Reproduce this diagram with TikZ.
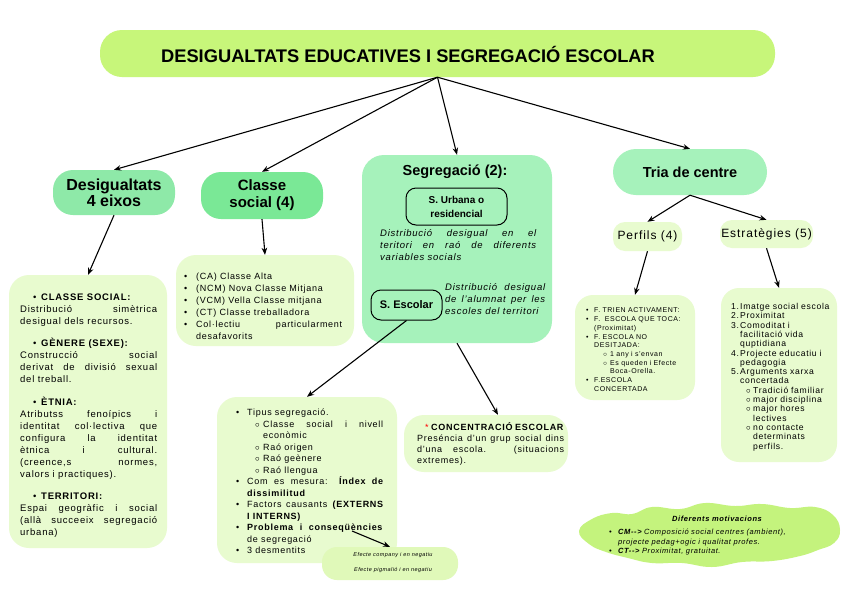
\documentclass[tikz,border=0pt]{standalone}
\usepackage{fontspec}
\setmainfont{Liberation Sans}
\newfontfamily\lsp{Liberation Sans}[LetterSpace=8]
\usetikzlibrary{arrows.meta}
\definecolor{titleg}{RGB}{199,246,122}
\definecolor{cloudg}{RGB}{196,243,125}
\definecolor{desigg}{RGB}{142,233,168}
\definecolor{classeg}{RGB}{122,232,150}
\definecolor{segg}{RGB}{166,242,187}
\definecolor{paleg}{RGB}{232,251,207}
\definecolor{efg}{RGB}{224,249,185}
\newcommand\mybul[1]{\par\noindent\hangindent=#1\hangafter=1\makebox[#1][l]{\textbullet}\ignorespaces}
\newcommand\mysub[2]{\par\noindent\hangindent=#2\hangafter=1\hspace*{#1}\makebox[\dimexpr#2-#1\relax][l]{$\circ$}\ignorespaces}
\newcommand\mynum[2]{\par\noindent\hangindent=#2\hangafter=1\makebox[#2][l]{#1}\ignorespaces}
\newcommand\myhead[1]{\par\noindent\hspace*{13pt}\makebox[8pt][l]{\textbullet}#1\par}
\pretolerance=10000 \tolerance=10000 \hbadness=10000 \hfuzz=60pt
\begin{document}
\begin{tikzpicture}[x=1pt,y=-1pt,
  rbox/.style={rectangle, rounded corners=#1, inner sep=0pt},
  arr/.style={-{Stealth[length=7pt,width=5.5pt]}, line width=1.1pt},
  tx/.style={anchor=north west, inner sep=0pt, align=justify},
]
\fill[white] (0,0) rectangle (848,600);
\useasboundingbox (0,0) rectangle (848,600);

% ---- boxes ----
\node[rbox=22pt, fill=titleg, minimum width=675pt, minimum height=47pt] (title) at (437.5,53.5) {};
\node[font=\bfseries\fontsize{18.3}{20}\selectfont] (titletxt) at (408,54) {DESIGUALTATS EDUCATIVES I SEGREGACIÓ ESCOLAR};

\node[rbox=20pt, fill=desigg, minimum width=122pt, minimum height=45pt, align=center, font=\bfseries\fontsize{16}{16}\selectfont] (desig) at (114,192.5) {Desigualtats\\4 eixos};
\node[rbox=20pt, fill=classeg, minimum width=122pt, minimum height=47pt, align=center, font=\bfseries\fontsize{15}{17}\selectfont] (classe) at (262,195.5) {Classe\\social (4)};
\node[rbox=22pt, fill=segg, minimum width=190pt, minimum height=188pt] (seg) at (457,249) {};
\node[rbox=23pt, fill=segg, minimum width=154pt, minimum height=46pt, font=\bfseries\fontsize{14.5}{16}\selectfont] (tria) at (690,172) {Tria de centre};
\node[rbox=12pt, fill=paleg, minimum width=69pt, minimum height=29pt, font=\lsp\fontsize{12}{14}\selectfont] (perf) at (647.5,236.5) {Perfils (4)};
\node[rbox=12pt, fill=paleg, minimum width=93pt, minimum height=28pt, font=\lsp\fontsize{12}{14}\selectfont] (estr) at (766.5,234) {Estratègies (5)};

\node[font=\bfseries\fontsize{14.5}{16}\selectfont] (segt) at (455,172) {Segregació (2):};
\node[rbox=10pt, draw=black, line width=1pt, minimum width=101pt, minimum height=37pt, align=center, font=\bfseries\fontsize{10}{14}\selectfont] (urb) at (456.5,206.5) {S. Urbana o\\residencial};
\node[rbox=10pt, draw=black, line width=1pt, minimum width=71pt, minimum height=30pt, font=\bfseries\fontsize{11}{13}\selectfont] (esc) at (406.5,305) {S. Escolar};
\node[tx, text width=156pt, font=\lsp\itshape\fontsize{9.5}{12}\selectfont] (segi1) at (380,229) {Distribució desigual en el\linebreak teritori en raó de diferents\linebreak variables socials\par};
\node[tx, text width=100pt, font=\lsp\itshape\fontsize{9.5}{12}\selectfont] (segi2) at (445,283) {Distribució desigual\linebreak de l’alumnat per les\linebreak escoles del territori\par};

\node[rbox=20pt, fill=paleg, minimum width=158pt, minimum height=273pt] (leftbox) at (88,411.5) {};
\node[rbox=20pt, fill=paleg, minimum width=178pt, minimum height=91pt] (midbox) at (265,300.5) {};
\node[rbox=20pt, fill=paleg, minimum width=180pt, minimum height=166pt] (botbox) at (307,480) {};
\node[rbox=20pt, fill=paleg, minimum width=164pt, minimum height=57pt] (concbox) at (486,443.5) {};
\node[rbox=15pt, fill=efg, minimum width=136pt, minimum height=33pt] (efbox) at (390,563.5) {};
\node[rbox=18pt, fill=paleg, minimum width=120pt, minimum height=105pt] (perfbox) at (635,347.5) {};
\node[rbox=18pt, fill=paleg, minimum width=116pt, minimum height=174pt] (estrbox) at (779,375) {};

% cloud
\fill[cloudg] plot[smooth cycle, tension=0.75] coordinates {
 (579,531) (592,519) (612,513) (632,514) (652,507) (680,509) (705,503)
 (735,506) (762,504) (790,508) (815,507) (833,515) (840,530) (834,543)
 (818,550) (800,556) (772,561) (742,562) (712,567) (682,563) (652,563)
 (628,558) (606,552) (589,544)};

% ---- texts ----
\node[tx, text width=137pt, font=\lsp\fontsize{9.5}{12}\selectfont] (ltx) at (20,288) {%
\myhead{\textbf{CLASSE SOCIAL:}}
Distribució simètrica\linebreak desigual dels recursos.\par\vspace{10.5pt}
\myhead{\textbf{GÈNERE (SEXE):}}
Construcció social\linebreak derivat de divisió sexual\linebreak del treball.\par\vspace{10.5pt}
\myhead{\textbf{ÈTNIA:}}
Atributss fenoípics i\linebreak identitat col·lectiva que\linebreak configura la identitat\linebreak ètnica i cultural.\linebreak (creence,s normes,\linebreak valors i practiques).\par\vspace{10.5pt}
\myhead{\textbf{TERRITORI:}}
Espai geogràfic i social\linebreak (allà succeeix segregació\linebreak urbana)\par};

\node[tx, text width=158pt, font=\lsp\fontsize{9}{12}\selectfont] (mtx) at (184,267) {%
\mybul{12pt}(CA) Classe Alta
\mybul{12pt}(NCM) Nova Classe Mitjana
\mybul{12pt}(VCM) Vella Classe mitjana
\mybul{12pt}(CT) Classe treballadora
\mybul{12pt}Col·lectiu particularment\linebreak desafavorits\par};

\node[tx, text width=147pt, font=\lsp\fontsize{9}{11.5}\selectfont] (btx) at (236,404) {%
\mybul{11pt}Tipus segregació.
\mysub{19pt}{27pt}Classe social i nivell\linebreak econòmic
\mysub{19pt}{27pt}Raó origen
\mysub{19pt}{27pt}Raó geènere
\mysub{19pt}{27pt}Raó llengua
\mybul{11pt}Com es mesura: \textbf{Índex de\linebreak dissimilitud}
\mybul{11pt}Factors causants \textbf{(EXTERNS\linebreak I INTERNS)}
\mybul{11pt}\textbf{Problema i conseqüències}\linebreak de segregació
\mybul{11pt}3 desmentits\par};

\node[tx, text width=147pt, font=\lsp\fontsize{9}{11}\selectfont] (ctx) at (417,422) {%
\noindent\hspace*{8pt}{\color{red}*} \textbf{CONCENTRACIÓ ESCOLAR}\par
\noindent Pres\'encia d’un grup social dins\linebreak d’una escola. (situacions\linebreak extremes).\par};

\node[tx, text width=106pt, align=left, font=\lsp\fontsize{7}{8.7}\selectfont] (ptx) at (586,304) {%
\mybul{8pt}F. TRIEN ACTIVAMENT:
\mybul{8pt}F.\ \ ESCOLA QUE TOCA:\newline (Proximitat)
\mybul{8pt}F. ESCOLA NO\newline DESITJADA:
\mysub{17pt}{24pt}1 any i s’envan
\mysub{17pt}{24pt}Es queden i Efecte\newline Boca-Orella.
\mybul{8pt}F.ESCOLA\newline CONCERTADA\par};

\node[tx, text width=106pt, align=left, font=\lsp\fontsize{8.6}{9.3}\selectfont] (etx) at (731,300) {%
\mynum{1.}{9pt}Imatge social escola
\mynum{2.}{9pt}Proximitat
\mynum{3.}{9pt}Comoditat i\newline facilitació vida\newline quptidiana
\mynum{4.}{9pt}Projecte educatiu i\newline pedagogia
\mynum{5.}{9pt}Arguments xarxa\newline concertada
\mysub{15pt}{22pt}Tradició familiar
\mysub{15pt}{22pt}major disciplina
\mysub{15pt}{22pt}major hores\newline lectives
\mysub{15pt}{22pt}no contacte\newline determinats\newline perfils.\par};

\node[font=\lsp\bfseries\itshape\fontsize{7.5}{9}\selectfont] (cloudt) at (717,519) {Diferents motivacions};
\node[tx, text width=215pt, align=left, font=\lsp\itshape\fontsize{7.5}{9.5}\selectfont] (cloudl) at (609,525) {%
\mybul{9pt}\textbf{CM--> }Composició social centres (ambient),\newline projecte pedag+ogic i qualitat profes.
\mybul{9pt}\textbf{CT--> }Proximitat, gratuitat.\par};

\node[font=\lsp\itshape\fontsize{5.5}{7}\selectfont] (ef1) at (393,555) {Efecte company i en negatiu};
\node[font=\lsp\itshape\fontsize{5.5}{7}\selectfont] (ef2) at (393,570) {Efecte pigmalió i en negatiu};

% ---- connectors ----
\coordinate (efs) at (352,531);
\draw[arr] (title.south) -- (desig.north);
\draw[arr] (title.south) -- (classe.north);
\draw[arr] (title.south) -- (seg.north);
\draw[arr] (title.south) -- (tria.north);
\draw[arr] (desig.south) -- (leftbox.north);
\draw[arr] (classe.south) -- (midbox.north);
\draw[arr] (tria.south) -- (perf.north);
\draw[arr] (tria.south) -- (estr.north);
\draw[arr] (perf.south) -- (perfbox.north);
\draw[arr] (estr.south) -- (estrbox.north);
\draw[arr] (esc.south) -- (botbox.north);
\draw[arr] (seg.south) -- ([xshift=12pt]concbox.north);
\draw[arr] (efs) -- (efbox.north);
\end{tikzpicture}
\end{document}
